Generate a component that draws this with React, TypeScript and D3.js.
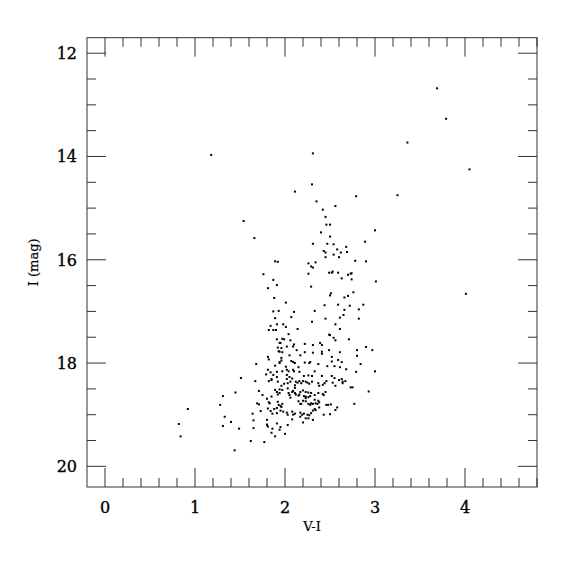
import { useRef, useEffect } from "react"
import * as d3 from "d3"

// V-I colour, I magnitude
const brightStars: [number, number][] = [
  [3.69, 12.68], [3.79, 13.27], [3.36, 13.73], [4.05, 14.25], [3.25, 14.75],
  [4.01, 16.66], [1.18, 13.97], [2.31, 13.94], [2.3, 14.54], [2.11, 14.68],
  [2.79, 14.77], [1.54, 15.25], [1.66, 15.58],
]

const upperBranch: [number, number][] = [
  [2.35, 14.87], [2.56, 14.96], [2.42, 15.03], [2.45, 15.17], [2.46, 15.32],
  [2.5, 15.32], [2.4, 15.47], [2.5, 15.55], [3.0, 15.43], [2.89, 15.65],
  [2.31, 15.69], [2.47, 15.69], [2.54, 15.7], [2.68, 15.75], [2.43, 15.83],
  [2.45, 15.86], [2.58, 15.8], [2.62, 15.86], [2.69, 15.85], [2.54, 15.9],
  [2.45, 15.95], [2.6, 15.95], [2.78, 16.02], [2.9, 16.03], [2.26, 16.07],
  [2.34, 16.05], [2.29, 16.13], [2.31, 16.15], [2.26, 16.27], [2.49, 16.25],
  [2.52, 16.25], [2.53, 16.23], [2.59, 16.25], [2.7, 16.29], [2.73, 16.27],
  [2.74, 16.26], [2.63, 16.36], [2.74, 16.38], [3.01, 16.42], [2.29, 16.52],
  [1.89, 16.03], [1.92, 16.04], [1.76, 16.28], [1.87, 16.39], [1.91, 16.49],
  [1.81, 16.55],
]

const blueEdge: [number, number][] = [
  [1.88, 16.74], [1.87, 17.0], [1.93, 16.99], [1.89, 17.13], [1.91, 17.25],
  [1.84, 17.28], [1.82, 17.36], [1.87, 17.36], [1.9, 17.36], [1.91, 17.54],
  [1.94, 17.61], [1.92, 17.7], [1.93, 17.77], [1.94, 17.78], [1.81, 17.88],
  [1.82, 17.93], [1.94, 18.0], [1.89, 18.05], [1.68, 18.02], [1.81, 18.13],
  [1.91, 18.17], [1.84, 18.18], [1.79, 18.22], [1.87, 18.23], [1.91, 18.27],
  [1.85, 18.31], [1.51, 18.29],
]

const midBranch: [number, number][] = [
  [2.51, 16.65], [2.5, 16.69], [2.76, 16.63], [2.66, 16.73], [2.7, 16.7],
  [2.01, 16.83], [2.44, 16.88], [2.59, 16.87], [2.72, 16.89], [2.87, 16.87],
  [2.1, 17.01], [2.33, 16.99], [2.66, 16.97], [2.82, 16.96], [2.07, 17.11],
  [2.45, 17.14], [2.61, 17.12], [2.65, 17.07], [2.82, 17.14], [2.3, 17.2],
  [1.98, 17.25], [2.56, 17.25], [2.01, 17.3], [2.14, 17.34], [2.61, 17.34],
  [2.04, 17.44], [2.49, 17.45], [2.5, 17.46], [2.54, 17.51], [2.56, 17.56],
  [2.71, 17.54], [1.97, 17.53], [1.99, 17.54], [2.06, 17.56], [1.95, 17.61],
  [2.1, 17.64], [2.09, 17.68], [2.22, 17.63], [2.31, 17.65], [2.39, 17.61],
  [2.41, 17.65], [2.02, 17.68], [1.96, 17.71], [2.13, 17.75], [2.49, 17.75],
  [2.61, 17.79], [2.8, 17.75], [2.9, 17.69], [2.97, 17.75], [1.97, 17.79],
  [2.22, 17.79], [2.31, 17.8], [2.41, 17.78], [2.05, 17.85], [2.17, 17.85],
  [2.41, 17.82], [2.52, 17.88], [2.8, 17.86], [1.96, 17.9], [1.94, 17.98],
  [1.96, 17.95], [2.07, 17.96], [2.09, 17.98], [2.11, 18.0], [2.22, 17.99],
  [2.28, 17.98], [2.27, 18.0], [2.37, 18.02], [2.52, 17.97], [2.59, 17.94],
  [2.63, 17.98], [2.84, 18.02], [2.47, 18.06], [2.55, 18.06], [2.61, 18.08],
  [2.68, 18.12], [2.79, 18.17], [3.0, 18.16], [2.01, 18.07], [2.02, 18.13],
  [2.04, 18.16], [2.09, 18.13], [2.1, 18.16], [2.15, 18.08], [2.16, 18.17],
  [1.97, 18.16], [2.21, 18.25], [2.26, 18.24], [2.3, 18.25], [2.33, 18.16],
  [2.41, 18.25], [2.52, 18.25], [2.55, 18.29], [2.63, 18.31], [2.02, 18.23],
  [2.05, 18.27], [2.02, 18.31], [2.08, 18.3],
]

const lowerClump: [number, number][] = [
  [1.96, 18.44], [1.99, 18.4], [2.03, 18.39], [2.06, 18.36], [2.11, 18.43],
  [2.12, 18.36], [2.14, 18.38], [2.16, 18.35], [2.18, 18.39], [2.2, 18.35],
  [2.23, 18.36], [2.25, 18.38], [2.27, 18.4], [2.3, 18.36], [2.37, 18.39],
  [2.38, 18.44], [2.42, 18.42], [2.44, 18.39], [2.46, 18.35], [2.53, 18.38],
  [2.56, 18.44], [2.6, 18.33], [2.64, 18.36], [2.67, 18.35], [2.64, 18.39],
  [2.73, 18.47], [2.75, 18.47], [2.93, 18.55], [1.94, 18.51], [1.97, 18.52],
  [2.03, 18.49], [2.04, 18.58], [2.05, 18.62], [2.06, 18.67], [2.11, 18.48],
  [2.09, 18.54], [2.08, 18.56], [2.11, 18.58], [2.12, 18.61], [2.16, 18.61],
  [2.15, 18.63], [2.17, 18.56], [2.2, 18.53], [2.23, 18.56], [2.26, 18.57],
  [2.29, 18.58], [2.33, 18.62], [2.21, 18.64], [2.23, 18.65], [2.23, 18.68],
  [2.26, 18.66], [2.28, 18.64], [2.2, 18.73], [2.23, 18.74], [2.26, 18.79],
  [2.28, 18.81], [2.29, 18.78], [2.15, 18.74], [2.17, 18.79], [2.18, 18.79],
  [2.37, 18.58], [2.42, 18.6], [2.45, 18.56], [2.43, 18.62], [2.33, 18.71],
  [2.37, 18.73], [2.38, 18.76], [2.36, 18.79], [2.34, 18.78], [2.31, 18.79],
  [2.38, 18.86], [2.33, 18.89], [2.31, 18.92], [2.34, 18.91], [2.46, 18.81],
  [2.48, 18.81], [2.51, 18.8], [2.56, 18.91], [2.58, 18.86], [2.77, 18.79],
  [2.43, 19.0], [2.5, 18.99], [1.97, 18.79], [1.95, 18.83], [1.96, 18.85],
  [1.98, 18.94], [1.95, 18.92], [2.02, 18.96], [2.03, 19.0], [2.08, 18.94],
  [2.09, 19.0], [2.11, 18.98], [2.08, 19.09], [2.17, 18.96], [2.21, 18.98],
  [2.25, 19.0], [2.27, 19.01], [2.29, 18.97], [2.17, 19.04], [2.19, 19.0],
  [2.23, 19.07], [2.26, 19.07], [2.31, 19.1], [2.2, 19.15], [2.03, 19.2],
  [1.95, 19.24], [1.94, 19.29], [2.0, 19.37],
]

const blueTail: [number, number][] = [
  [1.67, 18.35], [1.82, 18.35], [1.85, 18.33], [1.92, 18.36], [1.31, 18.64],
  [1.45, 18.57], [1.28, 18.81], [0.92, 18.89], [1.71, 18.54], [1.75, 18.62],
  [1.89, 18.52], [1.91, 18.56], [1.94, 18.58], [1.92, 18.61], [1.85, 18.65],
  [1.8, 18.69], [1.69, 18.78], [1.71, 18.8], [1.82, 18.76], [1.83, 18.78],
  [1.92, 18.75], [1.93, 18.81], [1.81, 18.88], [1.88, 18.89], [1.91, 18.87],
  [1.84, 18.93], [1.73, 18.93], [1.86, 18.98], [1.91, 18.97], [1.64, 18.98],
  [1.33, 19.04], [1.4, 19.14], [1.31, 19.22], [1.65, 19.11], [1.8, 19.1],
  [1.8, 19.19], [1.81, 19.23], [1.8, 19.2], [1.91, 19.17], [1.86, 19.27],
  [1.65, 19.26], [1.49, 19.27], [1.85, 19.35], [1.89, 19.42], [0.82, 19.18],
  [0.84, 19.42], [1.62, 19.51], [1.77, 19.53], [1.44, 19.69],
]

const xDomain = [-0.2, 4.8]
const yDomain = [11.7, 20.4]
const xMajor = [0, 1, 2, 3, 4]
const yMajor = [12, 14, 16, 18, 20]

const App = () => {
  const svgRef = useRef(null)

  useEffect(() => {
    const svg = d3.select(svgRef.current)
    svg.selectAll("*").remove()

    const left = 87, right = 537, top = 37.7, bottom = 487
    const x = d3.scaleLinear().domain(xDomain).range([left, right])
    const y = d3.scaleLinear().domain(yDomain).range([top, bottom])

    const stars = [
      ...brightStars, ...upperBranch, ...blueEdge,
      ...midBranch, ...lowerClump, ...blueTail,
    ]

    const axisColor = "#333"
    const g = svg.append("g")

    // frame
    g.append("rect")
      .attr("x", left)
      .attr("y", top)
      .attr("width", right - left)
      .attr("height", bottom - top)
      .attr("fill", "none")
      .attr("stroke", axisColor)
      .attr("stroke-width", 1)

    const xMinor = d3.range(0, 4.81, 0.2).filter(
      (v) => !xMajor.some((m) => Math.abs(m - v) < 1e-6)
    )
    const yMinor = d3.range(12, 20.01, 0.5).filter(
      (v) => !yMajor.some((m) => Math.abs(m - v) < 1e-6)
    )

    const ticks = g.append("g").attr("stroke", axisColor).attr("stroke-width", 1)
    const xt = [...xMajor.map((v) => [v, 19]), ...xMinor.map((v) => [v, 9])]
    const yt = [...yMajor.map((v) => [v, 19]), ...yMinor.map((v) => [v, 9])]

    xt.forEach(([v, len]) => {
      ticks.append("line")
        .attr("x1", x(v)).attr("x2", x(v))
        .attr("y1", bottom).attr("y2", bottom - len)
      ticks.append("line")
        .attr("x1", x(v)).attr("x2", x(v))
        .attr("y1", top).attr("y2", top + len)
    })
    yt.forEach(([v, len]) => {
      ticks.append("line")
        .attr("x1", left).attr("x2", left + len)
        .attr("y1", y(v)).attr("y2", y(v))
      ticks.append("line")
        .attr("x1", right).attr("x2", right - len)
        .attr("y1", y(v)).attr("y2", y(v))
    })

    const font = "'DejaVu Serif', serif"
    const label = (sel, size) =>
      sel
        .style("font-family", font)
        .style("font-size", size)
        .style("fill", "#000")
        .style("stroke", "#000")
        .style("stroke-width", 0.35)

    g.append("g")
      .selectAll("text")
      .data(xMajor)
      .enter()
      .append("text")
      .attr("x", (d) => x(d))
      .attr("y", bottom + 26)
      .attr("text-anchor", "middle")
      .call(label, "16px")
      .text((d) => d)

    g.append("g")
      .selectAll("text")
      .data(yMajor)
      .enter()
      .append("text")
      .attr("x", left - 10)
      .attr("y", (d) => y(d))
      .attr("dy", "0.36em")
      .attr("text-anchor", "end")
      .call(label, "16px")
      .text((d) => d)

    g.append("text")
      .attr("x", (left + right) / 2)
      .attr("y", 531)
      .attr("text-anchor", "middle")
      .call(label, "13px")
      .style("stroke-width", 0.2)
      .text("V-I")

    g.append("text")
      .attr("transform", `translate(38,${(top + bottom) / 2}) rotate(-90)`)
      .attr("text-anchor", "middle")
      .call(label, "13px")
      .style("stroke-width", 0.2)
      .text("I (mag)")

    g.append("g")
      .selectAll("rect")
      .data(stars)
      .enter()
      .append("rect")
      .attr("x", (d) => x(d[0]) - 1)
      .attr("y", (d) => y(d[1]) - 1)
      .attr("width", 2)
      .attr("height", 2)
      .attr("fill", "#000")
  }, [])

  return (
    <svg
      ref={svgRef}
      width={575}
      height={575}
      style={{ position: "absolute", left: 0, top: 0, background: "#fff" }}
    ></svg>
  )
}

export default App
